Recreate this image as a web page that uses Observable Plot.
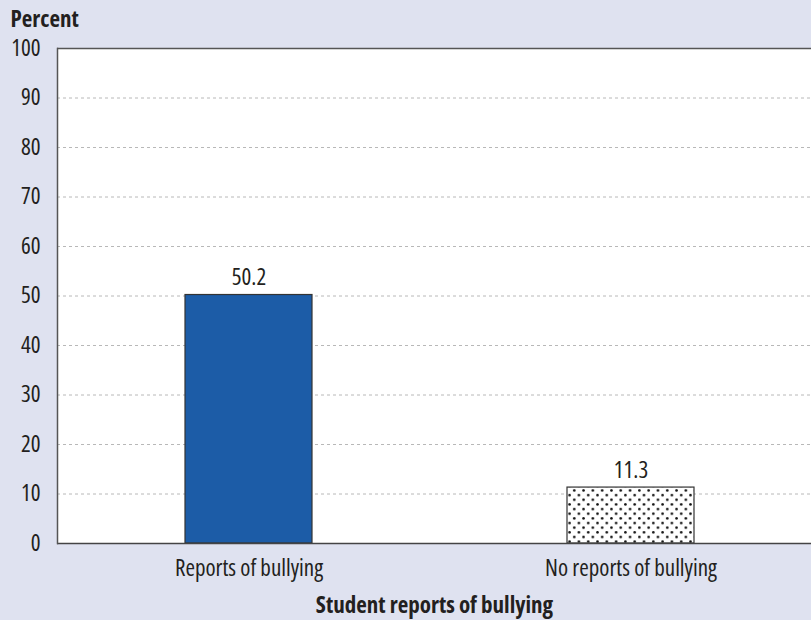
<!DOCTYPE html>
<html><head><meta charset="utf-8">
<script src="https://cdn.jsdelivr.net/npm/d3@7"></script>
<script src="https://cdn.jsdelivr.net/npm/@observablehq/plot@0.6"></script>
<style>
html,body{margin:0;padding:0;background:#dfe2f0;}
#chart{width:811px;height:620px;}
#chart svg, #chart svg text{font-family:'Open Sans', sans-serif; font-stretch:condensed;}
</style></head>
<body><div id="chart"></div>
<script>
const categories = ["Reports of bullying", "No reports of bullying"];
const values = [50.2, 11.3];
const fills = ["#1c5ca7", "url(#dots)"];
const yTicks = [0, 10, 20, 30, 40, 50, 60, 70, 80, 90, 100];
const yTitle = "Percent";
const xTitle = "Student reports of bullying";

const data = categories.map((c, i) => ({category: c, value: values[i], fill: fills[i]}));

const chart = Plot.plot({
  width: 811,
  height: 620,
  marginTop: 48,
  marginBottom: 77,
  marginLeft: 57,
  marginRight: 0,
  style: {background: "transparent", fontFamily: "'Open Sans', sans-serif", fontSize: "23px", color: "#231f20"},
  x: {domain: categories, range: [57, 822], paddingInner: 0.668, paddingOuter: 0.334, label: null},
  y: {domain: [0, 100], ticks: yTicks, label: null},
  color: {type: "identity"},
  marks: [
    Plot.frame({fill: "white", stroke: "none"}),
    Plot.gridY(yTicks, {stroke: "#b8b8b8", strokeOpacity: 1, strokeDasharray: "3,3"}),
    Plot.barY(data, {x: "category", y: "value", fill: "fill", stroke: "#333", strokeWidth: 1.2}),
    Plot.text(data, {x: "category", y: "value", text: d => d.value.toFixed(1), lineAnchor: "bottom", dy: -10, fontSize: 23, fill: "#231f20"}),
    Plot.ruleY([0], {stroke: "#444", strokeWidth: 1.5}),
    Plot.ruleY([100], {stroke: "#555", strokeWidth: 1.5}),
    Plot.frame({anchor: "left", stroke: "#555", strokeWidth: 1.5}),
    Plot.axisY(yTicks, {tickSize: 0, tickPadding: 17, fontSize: 23, label: null, fill: "#231f20"}),
    Plot.axisX({tickSize: 0, tickPadding: 16, fontSize: 23, label: null, fill: "#231f20"}),
    Plot.text([yTitle], {frameAnchor: "top-left", dx: -47, dy: -38, textAnchor: "start", lineAnchor: "top", fontWeight: "bold", fontSize: 23, fill: "#231f20"}),
    Plot.text([xTitle], {frameAnchor: "bottom", dy: 62, lineAnchor: "middle", fontWeight: "bold", fontSize: 23, fill: "#231f20"})
  ]
});

// pattern definition for the dotted bar
const svgns = "http://www.w3.org/2000/svg";
const defs = document.createElementNS(svgns, "defs");
defs.innerHTML = `<pattern id="dots" patternUnits="userSpaceOnUse" width="9.3" height="9.3">
  <rect width="9.3" height="9.3" fill="white"/>
  <circle cx="2.3" cy="2.3" r="1.3" fill="#111"/>
  <circle cx="6.95" cy="6.95" r="1.3" fill="#111"/>
</pattern>`;
chart.insertBefore(defs, chart.firstChild);
document.getElementById("chart").appendChild(chart);
</script>
</body></html>
